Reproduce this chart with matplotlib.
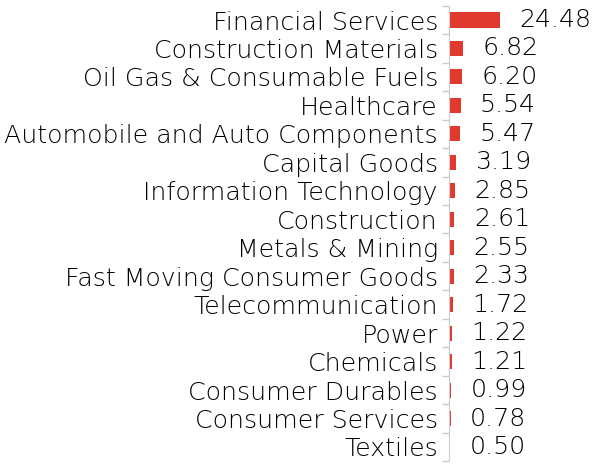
import numpy as np
import matplotlib.pyplot as plt

sectors = ['Financial Services', 'Construction Materials', 'Oil Gas & Consumable Fuels',
           'Healthcare', 'Automobile and Auto Components', 'Capital Goods',
           'Information Technology', 'Construction', 'Metals & Mining',
           'Fast Moving Consumer Goods', 'Telecommunication', 'Power', 'Chemicals',
           'Consumer Durables', 'Consumer Services', 'Textiles']
weights = [24.48, 6.82, 6.20, 5.54, 5.47, 3.19, 2.85, 2.61, 2.55, 2.33,
           1.72, 1.22, 1.21, 0.99, 0.78, 0.50]

plt.rcParams['font.family'] = ['DejaVu Sans']
fs = 18.2

fig = plt.figure(figsize=(6.07, 4.70), dpi=100)
ax = fig.add_axes([449 / 607, 0.0187, 158 / 607, 0.969])

y = np.arange(len(sectors))
ax.barh(y, weights, height=0.53, color='#e03a2f')
for yi, w in zip(y, weights):
    ax.annotate(f'{w:.2f}', (w, yi), xytext=(14, 0), textcoords='offset points',
                va='center', ha='left', fontsize=fs, fontweight='light', color='#000000')

ax.set_ylim(len(sectors) - 0.5, -0.5)
ax.set_xlim(0, 76)
ax.set_yticks(y)
ax.set_yticklabels(sectors, fontsize=fs, fontweight='light', color='#000000')
ax.set_yticks(np.arange(len(sectors) + 1) - 0.5, minor=True)
ax.tick_params(axis='y', which='major', length=0, pad=8)
ax.tick_params(axis='y', which='minor', length=5, color='#cccccc', width=1)
ax.set_xticks([])
for s in ['top', 'right', 'bottom']:
    ax.spines[s].set_visible(False)
ax.spines['left'].set_color('#cccccc')
ax.patch.set_alpha(0)

fig.savefig('out.png', dpi=100)
